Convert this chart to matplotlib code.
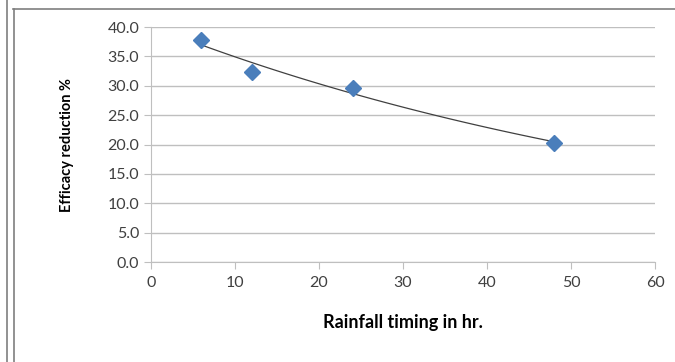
import numpy as np
import matplotlib.pyplot as plt
from matplotlib.lines import Line2D

# rainfall timing (hr) vs efficacy reduction (%)
hours = [6, 12, 24, 48]
reduction = [37.8, 32.3, 29.7, 20.3]

x_ticks = [0, 10, 20, 30, 40, 50, 60]
y_ticks = [0, 5, 10, 15, 20, 25, 30, 35, 40]

plt.rcParams['font.family'] = ['Lato', 'DejaVu Sans']

fig = plt.figure(figsize=(6.75, 3.62), dpi=100)
ax = fig.add_axes([0.2237, 0.2762, 0.7467, 0.6492])

# exponential trendline (as excel does)
b, a = np.polyfit(hours, np.log(reduction), 1)
xs = np.linspace(min(hours), max(hours), 100)
ax.plot(xs, np.exp(a + b * xs), color='#404040', lw=0.9, zorder=2)

ax.plot(hours, reduction, 'D', color='#4A7EBB', markersize=8, zorder=3)

ax.set_xlim(0, 60)
ax.set_ylim(0, 40)
ax.set_xticks(x_ticks)
ax.set_yticks(y_ticks)
ax.set_yticklabels([f'{v:.1f}' for v in y_ticks])
ax.yaxis.grid(True, color='#BFBFBF', lw=1)
ax.set_axisbelow(True)
for s in ['top', 'right']:
    ax.spines[s].set_visible(False)
for s in ['left', 'bottom']:
    ax.spines[s].set_color('#BFBFBF')
ax.tick_params(axis='both', colors='#BFBFBF', labelcolor='#404040', labelsize=11.5, length=5)
ax.tick_params(axis='x', pad=5)

ax.set_xlabel('Rainfall timing in hr.', fontsize=13, fontweight='bold', labelpad=17)
ax.set_ylabel('Efficacy reduction %', fontsize=10.5, fontweight='bold', labelpad=24)

# outer frame lines
fig.add_artist(Line2D([13 / 675, 1], [1 - 9 / 362, 1 - 9 / 362], color='#7F7F7F', lw=1.2))
fig.add_artist(Line2D([7 / 675, 7 / 675], [0, 1], color='#7F7F7F', lw=1.2))
fig.add_artist(Line2D([14 / 675, 14 / 675], [0, 1 - 9 / 362], color='#7F7F7F', lw=1.2))

fig.savefig('out.png', dpi=100)
